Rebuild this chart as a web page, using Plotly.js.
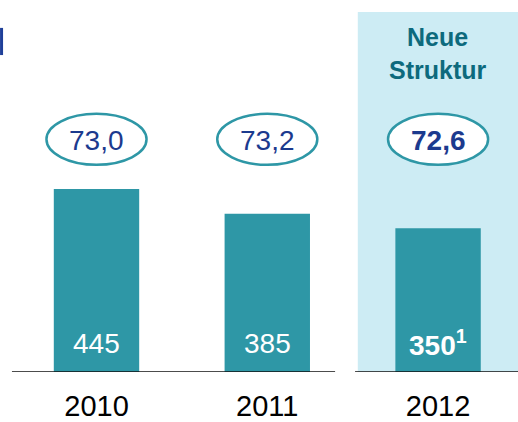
<!DOCTYPE html>
<html><head><meta charset="utf-8">
<script src="https://cdn.plot.ly/plotly-3.0.1.min.js"></script>
<style>html,body{margin:0;padding:0;background:#fff}#chart{width:518px;height:422px}</style>
</head><body><div id="chart"></div>
<script>
const years = ["2010", "2011", "2012"];
const values = [445, 385, 350];
const valueLabels = ["445", "385", "<b>350<sup>1</sup></b>"];
const ratios = ["73,0", "73,2", "<b>72,6</b>"];
const panelLabel = "<b>Neue<br>Struktur</b>";

const teal = "#2e97a6";
const navy = "#1c3a8e";
const font = "Liberation Sans, Arial, sans-serif";

const trace = {
  type: "bar", x: years, y: values, width: 0.5,
  marker: {color: teal, line: {width: 0}}, hoverinfo: "skip"
};

const shapes = [
  {type: "rect", layer: "below", xref: "x", yref: "paper", x0: 1.53, x1: 2.5, y0: 0, y1: 0.968,
   fillcolor: "#cdecf4", line: {width: 0}},
  {type: "line", xref: "x", yref: "y", x0: -0.495, x1: 1.397, y0: 0, y1: 0, line: {color: "#111", width: 1.3}},
  {type: "line", xref: "x", yref: "y", x0: 1.514, x1: 2.5, y0: 0, y1: 0, line: {color: "#111", width: 1.3}},
  {type: "line", xref: "paper", yref: "paper", x0: 0.003, x1: 0.003, y0: 0.852, y1: 0.925, line: {color: "#1f3f99", width: 3}}
];
const annotations = [];
years.forEach((yr, i) => {
  shapes.push({type: "circle", xref: "x", yref: "y", x0: i - 0.293, x1: i + 0.293, y0: 504, y1: 628,
    fillcolor: "#ffffff", opacity: 1, line: {color: teal, width: 2.5}});
  annotations.push({x: i, y: 563, xref: "x", yref: "y", yanchor: "middle", text: ratios[i], showarrow: false,
    font: {family: font, size: 28, color: navy}});
  annotations.push({x: i, y: 70, xref: "x", yref: "y", yanchor: "middle", text: valueLabels[i], showarrow: false,
    font: {family: font, size: 28, color: "#ffffff"}});
});
annotations.push({x: 2, y: 0.855, xref: "x", yref: "paper", yanchor: "middle", text: panelLabel, showarrow: false,
  font: {family: font, size: 25, color: "#0d6a7d"}});

const layout = {
  width: 518, height: 422,
  margin: {l: 0, r: 0, t: 0, b: 50},
  paper_bgcolor: "#ffffff", plot_bgcolor: "rgba(0,0,0,0)",
  showlegend: false,
  xaxis: {type: "category", range: [-0.565, 2.468], showgrid: false, zeroline: false, showline: false,
    ticks: "", ticklabelstandoff: 14, tickfont: {family: font, size: 29, color: "#000"}, fixedrange: true},
  yaxis: {range: [0, 905], showgrid: false, zeroline: false, showline: false, showticklabels: false, fixedrange: true},
  shapes: shapes, annotations: annotations
};
Plotly.newPlot("chart", [trace], layout, {displayModeBar: false});
</script></body></html>
